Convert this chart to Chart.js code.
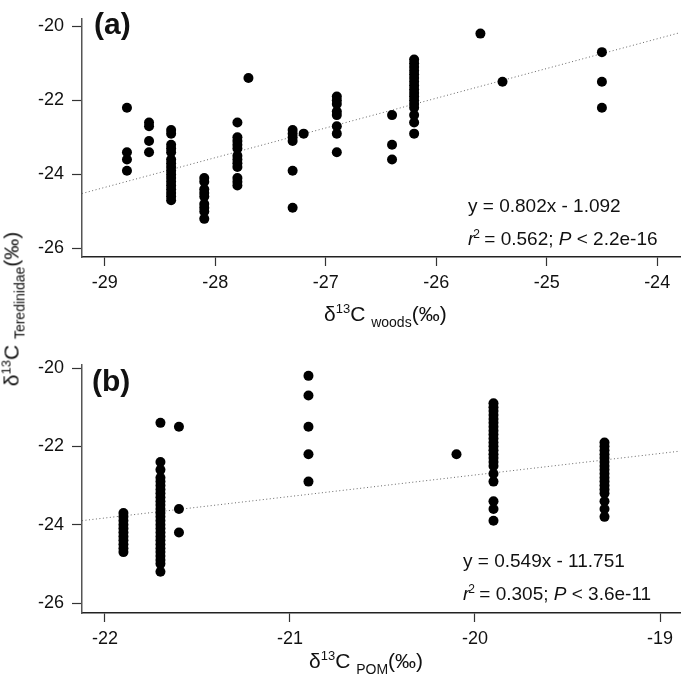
<!DOCTYPE html>
<html>
<head>
<meta charset="utf-8">
<script src="https://cdn.jsdelivr.net/npm/chart.js@4"></script>
<style>
  body { margin: 0; background: #fff; }
  #wrap { position: relative; width: 685px; height: 682px; font-family: "Liberation Sans", Arial, sans-serif; color: #111; }
  canvas { position: absolute; left: 0; }
  .title { position: absolute; font-size: 21px; white-space: nowrap; line-height: 1; }
  .title sup { font-size: 13px; vertical-align: 8px; }
  .title sub { font-size: 14px; vertical-align: -6px; }
  #ytitle { left: 13px; top: 309px; transform: translate(-50%, -50%) rotate(-90deg); }
</style>
</head>
<body>
<div id="wrap">
  <canvas id="chartA" width="685" height="340" style="top:0"></canvas>
  <canvas id="chartB" width="685" height="342" style="top:340px"></canvas>
  <div class="title" id="ytitle">δ<sup>13</sup>C <sub>Teredinidae</sub>(‰)</div>
  <div class="title" style="left:324px; top:302px">δ<sup>13</sup>C <sub>woods</sub>(‰)</div>
  <div class="title" style="left:309px; top:649px">δ<sup>13</sup>C <sub>POM</sub>(‰)</div>
</div>
<script>
// panel (a): wood carbon vs shipworm carbon, one x per column of dots
const woodsX = [-28.8, -28.6, -28.4, -28.1, -27.8, -27.7, -27.3, -27.2, -26.9, -26.4, -26.2, -25.6, -25.4, -24.5];
const teredVsWoods = [
  [-22.2, -23.4, -23.6, -23.9],
  [-22.6, -22.7, -23.1, -23.4],
  [-22.8, -22.9, -23.2, -23.3, -23.4, -23.6, -23.7, -23.8, -23.9, -24.0, -24.1, -24.2, -24.3, -24.4, -24.5, -24.6, -24.7],
  [-24.1, -24.2, -24.4, -24.5, -24.6, -24.8, -24.9, -25.0, -25.2],
  [-22.6, -23.0, -23.1, -23.2, -23.3, -23.5, -23.6, -23.7, -23.8, -24.1, -24.2, -24.3],
  [-21.4],
  [-22.8, -22.9, -23.0, -23.1, -23.9, -24.9],
  [-22.9],
  [-21.9, -22.0, -22.1, -22.3, -22.4, -22.7, -22.9, -23.4],
  [-22.4, -23.2, -23.6],
  [-20.9, -21.0, -21.1, -21.2, -21.3, -21.4, -21.5, -21.6, -21.7, -21.8, -21.9, -22.0, -22.1, -22.2, -22.4, -22.6, -22.9],
  [-20.2],
  [-21.5],
  [-20.7, -21.5, -22.2],
];

// panel (b): POM carbon
const pomX = [-21.9, -21.7, -21.6, -20.9, -20.1, -19.9, -19.3];
const teredVsPom = [
  [-23.7, -23.8, -23.9, -24.0, -24.1, -24.2, -24.3, -24.4, -24.5, -24.6, -24.7],
  [-21.4, -22.4, -22.6, -22.8, -22.9, -23.0, -23.1, -23.2, -23.3, -23.4, -23.5, -23.6, -23.7, -23.8, -23.9, -24.0,
   -24.1, -24.2, -24.3, -24.4, -24.5, -24.6, -24.7, -24.8, -24.9, -25.0, -25.2],
  [-21.5, -23.6, -24.2],
  [-20.2, -20.7, -21.5, -22.2, -22.9],
  [-22.2],
  [-20.9, -21.0, -21.1, -21.2, -21.3, -21.4, -21.5, -21.6, -21.7, -21.8, -21.9, -22.0, -22.1, -22.2, -22.3, -22.4,
   -22.5, -22.7, -22.9, -23.4, -23.6, -23.9],
  [-21.9, -22.0, -22.1, -22.2, -22.3, -22.4, -22.5, -22.6, -22.7, -22.8, -22.9, -23.0, -23.1, -23.2, -23.4, -23.6, -23.8],
];

const woodsTicks = [-29, -28, -27, -26, -25, -24];
const pomTicks = [-22, -21, -20, -19];
const teredTicks = [-26, -24, -22, -20];

// fitted lines as printed on the figure
const fitA = {slope: 0.802, intercept: -1.092};
const fitB = {slope: 0.549, intercept: -11.751};

const FONT = '"Liberation Sans", Arial, sans-serif';

const toPoints = (xs, groups) => {
  const pts = [];
  xs.forEach((x, i) => groups[i].forEach((y) => pts.push({x, y})));
  return pts;
};

// panel letter + regression text
const panelText = {
  id: 'panelText',
  afterDraw(chart, args, o) {
    const ctx = chart.ctx;
    ctx.save();
    ctx.fillStyle = '#111';
    ctx.textBaseline = 'alphabetic';
    ctx.font = `bold 30px ${FONT}`;
    ctx.fillText(o.label, o.labelX, o.labelY);

    ctx.font = `19px ${FONT}`;
    ctx.fillText(o.eq, o.tx, o.ty);

    let x = o.tx;
    const y2 = o.ty + 33;
    ctx.font = `italic 19px ${FONT}`;
    ctx.fillText('r', x, y2);
    x += ctx.measureText('r').width;
    ctx.font = `12px ${FONT}`;
    ctx.fillText('2', x - 1, y2 - 7);
    x += ctx.measureText('2').width - 2;
    ctx.font = `19px ${FONT}`;
    const mid = ` = ${o.r2}; `;
    ctx.fillText(mid, x, y2);
    x += ctx.measureText(mid).width;
    ctx.font = `italic 19px ${FONT}`;
    ctx.fillText('P', x, y2);
    x += ctx.measureText('P').width;
    ctx.font = `19px ${FONT}`;
    ctx.fillText(` < ${o.p}`, x, y2);
    ctx.restore();
  },
};

const makePanel = (id, cfg) => {
  const fitLine = [
    {x: cfg.xMin, y: cfg.fit.slope * cfg.xMin + cfg.fit.intercept},
    {x: cfg.xMax, y: cfg.fit.slope * cfg.xMax + cfg.fit.intercept},
  ];
  return new Chart(document.getElementById(id), {
    type: 'scatter',
    data: {
      datasets: [
        {
          data: toPoints(cfg.xs, cfg.groups),
          pointRadius: 5,
          pointBackgroundColor: '#000',
          pointBorderWidth: 0,
          order: 1,
        },
        {
          type: 'line',
          data: fitLine,
          borderColor: '#666',
          borderWidth: 1,
          borderDash: [1, 2.5],
          pointRadius: 0,
          order: 2,
        },
      ],
    },
    options: {
      responsive: false,
      animation: false,
      events: [],
      layout: {padding: {left: 0, right: 2, top: cfg.padTop, bottom: 0}},
      plugins: {
        legend: {display: false},
        tooltip: {enabled: false},
        panelText: cfg.text,
      },
      scales: {
        x: {
          type: 'linear',
          min: cfg.xMin,
          max: cfg.xMax,
          afterBuildTicks: (s) => { s.ticks = cfg.xTicks.map((v) => ({value: v})); },
          afterFit: (s) => { s.height = cfg.xHeight; },
          border: {display: true, color: '#222', width: 1.5},
          grid: {display: true, drawOnChartArea: false, drawTicks: true, tickLength: 9, tickColor: '#333', tickWidth: 1.2},
          ticks: {color: '#111', padding: 6, maxRotation: 0, font: {family: FONT, size: 18}, callback: (v) => String(v)},
        },
        y: {
          type: 'linear',
          min: cfg.yMin,
          max: cfg.yMax,
          afterBuildTicks: (s) => { s.ticks = teredTicks.map((v) => ({value: v})); },
          afterFit: (s) => { s.width = 82; },
          border: {display: true, color: '#555', width: 1.5},
          grid: {display: true, drawOnChartArea: false, drawTicks: true, tickLength: 10, tickColor: '#333', tickWidth: 1.2},
          ticks: {color: '#111', padding: 8, font: {family: FONT, size: 18}, callback: (v) => String(v)},
        },
      },
    },
    plugins: [panelText],
  });
};

makePanel('chartA', {
  xs: woodsX,
  groups: teredVsWoods,
  xTicks: woodsTicks,
  xMin: -29.207, xMax: -23.793,
  yMin: -26.23, yMax: -19.8,
  padTop: 4, xHeight: 83,
  fit: fitA,
  text: {label: '(a)', labelX: 94, labelY: 34, eq: 'y = 0.802x - 1.092', tx: 468, ty: 212, r2: '0.562', p: '2.2e-16'},
});

makePanel('chartB', {
  xs: pomX,
  groups: teredVsPom,
  xTicks: pomTicks,
  xMin: -22.124, xMax: -18.892,
  yMin: -26.255, yMax: -19.923,
  padTop: 25, xHeight: 69,
  fit: fitB,
  text: {label: '(b)', labelX: 92, labelY: 51, eq: 'y = 0.549x - 11.751', tx: 463, ty: 227, r2: '0.305', p: '3.6e-11'},
});
</script>
</body>
</html>
